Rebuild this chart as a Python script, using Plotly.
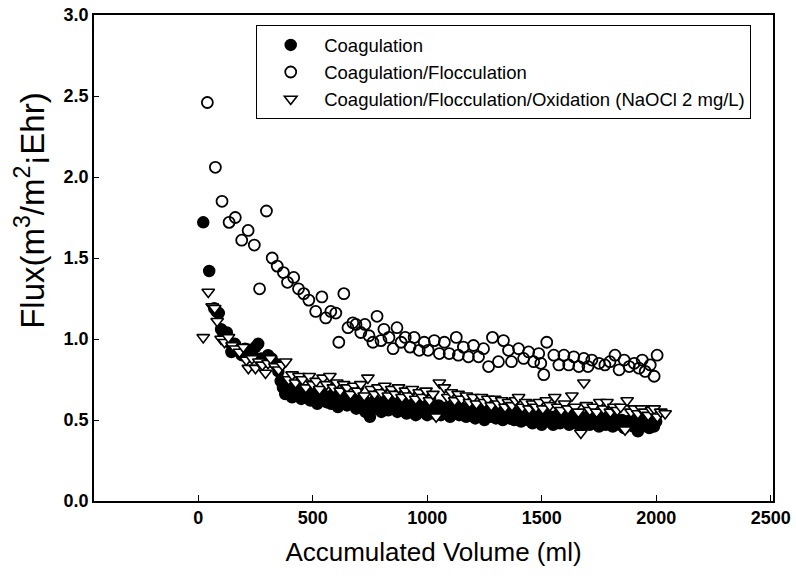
import plotly.graph_objects as go

# ---------------- data ----------------
coag_x = [22, 48, 70, 80, 90, 100, 110, 125, 135, 145, 160, 175, 190, 205, 220, 235, 250, 262, 275, 290,
          305, 320, 335, 350, 360,
          370, 380, 390, 400, 410, 420, 430, 440, 450, 460,
          470, 480, 490, 500, 510, 520, 530, 540, 550, 560,
          570, 580, 590, 600, 610, 620, 630, 640, 650, 660,
          670, 680, 690, 700, 710, 720, 730, 740, 750, 760,
          770, 780, 790, 800, 810, 820, 830, 840, 850, 860,
          870, 880, 890, 900, 910, 920, 930, 940, 950, 960,
          970, 980, 990, 1000, 1010, 1020, 1030, 1040, 1050, 1060,
          1070, 1080, 1090, 1100, 1110, 1120, 1130, 1140, 1150, 1160,
          1170, 1180, 1190, 1200, 1210, 1220, 1230, 1240, 1250, 1260,
          1270, 1280, 1290, 1300, 1310, 1320, 1330, 1340, 1350, 1360,
          1370, 1380, 1390, 1400, 1410, 1420, 1430, 1440, 1450, 1460,
          1470, 1480, 1490, 1500, 1510, 1520, 1530, 1540, 1550, 1560,
          1570, 1580, 1590, 1600, 1610, 1620, 1630, 1640, 1650, 1660,
          1670, 1680, 1690, 1700, 1710, 1720, 1730, 1740, 1750, 1760,
          1770, 1780, 1790, 1800, 1810, 1820, 1830, 1840, 1850, 1860,
          1870, 1880, 1890, 1900, 1910, 1920, 1930, 1940, 1950, 1960,
          1970, 1980, 1990, 2000]
coag_y = [1.72, 1.42, 1.19, 1.17, 1.16, 1.06, 1.03, 1.04, 0.98, 0.92, 0.97, 0.93, 0.90, 0.94, 0.89, 0.92, 0.95, 0.97, 0.88, 0.86,
          0.90, 0.88, 0.85, 0.80, 0.74,
          0.70, 0.66, 0.71, 0.67, 0.64, 0.69, 0.66, 0.70, 0.63, 0.67,
          0.65, 0.68, 0.62, 0.66, 0.64, 0.60, 0.67, 0.63, 0.65, 0.61,
          0.64, 0.60, 0.66, 0.62, 0.58, 0.63, 0.61, 0.65, 0.59, 0.62,
          0.60, 0.64, 0.57, 0.61, 0.59, 0.63, 0.55, 0.60, 0.52, 0.58,
          0.62, 0.57, 0.60, 0.55, 0.61, 0.58, 0.56, 0.62, 0.57, 0.59,
          0.55, 0.60, 0.57, 0.61, 0.54, 0.58, 0.56, 0.60, 0.53, 0.57,
          0.59, 0.55, 0.58, 0.53, 0.57, 0.60, 0.54, 0.56, 0.59, 0.53,
          0.57, 0.55, 0.58, 0.52, 0.56, 0.54, 0.58, 0.53, 0.55, 0.57,
          0.52, 0.56, 0.54, 0.57, 0.51, 0.55, 0.53, 0.56, 0.50, 0.54,
          0.56, 0.52, 0.55, 0.51, 0.54, 0.56, 0.50, 0.53, 0.55, 0.51,
          0.54, 0.50, 0.53, 0.55, 0.49, 0.52, 0.54, 0.50, 0.53, 0.48,
          0.52, 0.50, 0.54, 0.47, 0.51, 0.53, 0.49, 0.52, 0.47, 0.50,
          0.53, 0.48, 0.51, 0.49, 0.52, 0.47, 0.50, 0.53, 0.48, 0.50,
          0.46, 0.51, 0.49, 0.52, 0.47, 0.50, 0.48, 0.51, 0.46, 0.49,
          0.51, 0.47, 0.50, 0.48, 0.46, 0.51, 0.49, 0.47, 0.50, 0.45,
          0.49, 0.47, 0.50, 0.46, 0.48, 0.43, 0.49, 0.46, 0.50, 0.47,
          0.45, 0.48, 0.46, 0.49]

floc_x = [40, 75, 104, 135, 162, 190, 218, 245, 268, 298, 323, 345, 372, 390, 417, 438, 461, 483, 513, 540,
          557, 579, 601, 614, 636, 654, 675, 689, 710, 728, 746, 763, 781, 798, 811, 833, 851, 868, 886, 904,
          925, 943, 965, 987, 1004, 1031, 1053, 1075, 1096, 1127, 1136, 1158, 1180, 1202, 1224, 1246, 1268, 1285, 1311, 1333,
          1355, 1368, 1399, 1421, 1443, 1465, 1487, 1496, 1509, 1522, 1553, 1575, 1597, 1618, 1640, 1662, 1684, 1702, 1719, 1750,
          1776, 1798, 1820, 1838, 1860, 1882, 1904, 1925, 1939, 1952, 1974, 1991, 2004]
floc_y = [2.46, 2.06, 1.85, 1.72, 1.75, 1.61, 1.67, 1.58, 1.31, 1.79, 1.50, 1.45, 1.41, 1.35, 1.38, 1.31, 1.28, 1.24, 1.17, 1.26,
          1.13, 1.17, 1.16, 0.98, 1.28, 1.07, 1.10, 1.09, 1.04, 1.09, 1.02, 0.98, 1.14, 0.99, 1.06, 1.01, 0.94, 1.07, 0.98, 1.01,
          0.95, 1.01, 0.93, 0.98, 0.93, 0.99, 0.91, 0.98, 0.91, 1.01, 0.90, 0.95, 0.89, 0.96, 0.89, 0.94, 0.83, 1.01, 0.86, 0.99,
          0.93, 0.86, 0.94, 0.88, 0.92, 0.86, 0.91, 0.85, 0.78, 0.98, 0.90, 0.84, 0.90, 0.84, 0.89, 0.83, 0.88, 0.83, 0.87, 0.85,
          0.84, 0.86, 0.90, 0.81, 0.87, 0.83, 0.85, 0.82, 0.87, 0.80, 0.84, 0.77, 0.90]

oxid_x = [22, 44, 61, 72, 83, 100, 115, 132, 148, 162, 180, 197, 210, 219, 235, 250, 265, 280, 294, 305,
          316, 335, 351, 367, 382, 395, 410, 425, 440, 455, 470, 485, 500, 515, 530, 545, 560, 575, 590, 605,
          620, 635, 650, 665, 680, 695, 710, 725, 741, 755, 770, 785, 800, 815, 830, 845, 860, 875, 890, 905,
          920, 935, 950, 965, 980, 995, 1010, 1025, 1039, 1053, 1075, 1090, 1105, 1120, 1135, 1150, 1171, 1185, 1200, 1215,
          1237, 1250, 1265, 1280, 1295, 1310, 1325, 1340, 1355, 1370, 1385, 1399, 1415, 1430, 1445, 1460, 1475, 1490, 1505, 1520,
          1535, 1557, 1570, 1585, 1600, 1615, 1632, 1645, 1660, 1671, 1684, 1695, 1710, 1725, 1740, 1754, 1770, 1785, 1800, 1815,
          1830, 1845, 1864, 1873, 1890, 1905, 1920, 1935, 1950, 1965, 1980, 1991, 2005, 2020, 2039]
oxid_y = [1.01, 1.29, 1.20, 1.19, 1.11, 1.00, 0.98, 1.01, 0.96, 0.94, 0.92, 0.95, 0.87, 0.82, 0.88, 0.82, 0.86, 0.84, 0.79, 0.85,
          0.88, 0.83, 0.81, 0.84, 0.86, 0.75, 0.78, 0.73, 0.77, 0.75, 0.70, 0.77, 0.72, 0.74, 0.69, 0.76, 0.72, 0.77, 0.70, 0.73,
          0.68, 0.72, 0.70, 0.66, 0.71, 0.68, 0.72, 0.65, 0.76, 0.69, 0.66, 0.70, 0.67, 0.71, 0.65, 0.69, 0.66, 0.70, 0.64, 0.68,
          0.65, 0.69, 0.63, 0.67, 0.64, 0.68, 0.62, 0.66, 0.52, 0.73, 0.70, 0.64, 0.67, 0.62, 0.66, 0.63, 0.65, 0.61, 0.64, 0.60,
          0.64, 0.61, 0.63, 0.59, 0.63, 0.60, 0.62, 0.58, 0.61, 0.59, 0.62, 0.64, 0.58, 0.61, 0.57, 0.60, 0.58, 0.61, 0.57, 0.62,
          0.59, 0.64, 0.58, 0.56, 0.60, 0.57, 0.65, 0.58, 0.55, 0.42, 0.73, 0.59, 0.56, 0.58, 0.55, 0.61, 0.57, 0.61, 0.55, 0.58,
          0.56, 0.58, 0.44, 0.62, 0.55, 0.57, 0.54, 0.57, 0.55, 0.53, 0.56, 0.57, 0.52, 0.55, 0.54]

series_names = ["Coagulation", "Coagulation/Flocculation",
                "Coagulation/Flocculation/Oxidation (NaOCl 2 mg/L)"]
x_ticks = [0, 500, 1000, 1500, 2000, 2500]
y_ticks = [0.0, 0.5, 1.0, 1.5, 2.0, 2.5, 3.0]
y_tick_text = ["0.0", "0.5", "1.0", "1.5", "2.0", "2.5", "3.0"]
x_title = "Accumulated Volume (ml)"
y_title = "Flux(m<sup>3</sup>/m<sup>2</sup>¡Ehr)"

FONT = "Liberation Sans, Arial, sans-serif"

fig = go.Figure()
fig.add_trace(go.Scatter(
    x=coag_x, y=coag_y, mode="markers", name=series_names[0], legendgroup="a",
    marker=dict(symbol="circle", size=11, color="black", line=dict(color="black", width=1.5))))
fig.add_trace(go.Scatter(
    x=floc_x, y=floc_y, mode="markers", name=series_names[1], legendgroup="b",
    marker=dict(symbol="circle-open", size=11, color="black", line=dict(color="black", width=1.8))))
fig.add_trace(go.Scatter(
    x=oxid_x, y=oxid_y, mode="markers", name=series_names[2], legendgroup="c",
    marker=dict(symbol="triangle-down", size=11, color="white", line=dict(color="black", width=1.6))))

fig.update_layout(
    width=796, height=580,
    margin=dict(l=94, r=23, t=15, b=79),
    paper_bgcolor="white", plot_bgcolor="white",
    font=dict(family=FONT, color="black"),
    legend=dict(
        x=0.2386, y=0.979, xanchor="left", yanchor="top",
        bgcolor="white", bordercolor="black", borderwidth=1.2,
        font=dict(family=FONT, size=18.5, color="black"),
        tracegroupgap=0, itemwidth=57,
    ),
    xaxis=dict(
        range=[-455, 2510], tickvals=x_ticks, ticks="inside", ticklen=6, tickwidth=1.2,
        tickcolor="black", showline=True, linecolor="black", linewidth=1.5, mirror=True,
        showgrid=False, zeroline=False, automargin=False,
        tickfont=dict(family=FONT, size=18, weight="bold"),
        title=dict(text=x_title, font=dict(family=FONT, size=26)),
    ),
    yaxis=dict(
        range=[0, 3], tickvals=y_ticks, ticktext=y_tick_text, ticks="inside", ticklen=5, tickwidth=1.2,
        tickcolor="black", showline=True, linecolor="black", linewidth=1.5, mirror=True,
        showgrid=False, zeroline=False, automargin=False,
        tickfont=dict(family=FONT, size=18, weight="bold"),
    ),
    annotations=[dict(
        text=y_title, xref="paper", yref="paper", x=-0.0943, y=0.599,
        xanchor="center", yanchor="middle", textangle=-90, showarrow=False,
        font=dict(family=FONT, size=33, color="black"),
    )],
)

fig.write_html("out.html", config={"displayModeBar": False},
               post_script="document.body.style.margin='0px';")
